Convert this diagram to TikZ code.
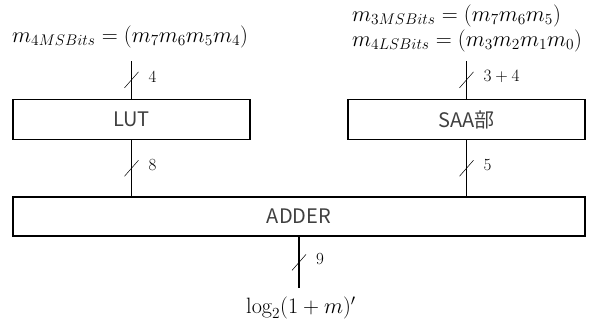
\documentclass[tikz,border=0pt]{standalone}
\usepackage{fontspec}
\usepackage{graphicx}
\usetikzlibrary{calc}
\newfontfamily\boxfont{Noto Sans CJK JP}
\definecolor{boxtext}{HTML}{404040}
\newcommand{\bigmath}[1]{\scalebox{1.07}{$#1$}}
\tikzset{
  blk/.style={draw, line width=1.6pt, minimum height=40pt, inner sep=0pt,
    font=\boxfont\fontsize{20}{22}\selectfont, text=boxtext},
  wire/.style={line width=1.6pt},
  slashline/.style={line width=0.5pt},
  bitlbl/.style={font=\fontsize{17}{19}\selectfont, anchor=west, inner sep=0pt},
  mathlbl/.style={font=\fontsize{20.74}{24}\selectfont, inner sep=0pt}
}
\newcommand{\busslash}[1]{\draw[slashline] ($(#1)+(-7,8)$) -- ($(#1)+(7,-8)$);}
\begin{document}
\begin{tikzpicture}[x=1pt,y=-1pt]
\useasboundingbox (0,0) rectangle (591,322);
\node[blk, minimum width=237pt] (lut) at (131.5,119.5) {LUT};
\node[blk, minimum width=237pt] (saa) at (466.5,119.5) {SAA部};
\node[blk, minimum width=572pt, minimum height=39pt] (adder) at (299,216.5) {ADDER};
\coordinate (lutin) at (131.5,61);
\coordinate (saain) at (466.5,61);
\coordinate (out) at (299,288);
\node[mathlbl, anchor=west] (ltxt) at (12,37) {\bigmath{m_{4MSBits}=(m_7m_6m_5m_4)}};
\node[mathlbl, anchor=west] (rtxt1) at (352,16) {\bigmath{m_{3MSBits}=(m_7m_6m_5)}};
\node[mathlbl, anchor=west] (rtxt2) at (352,41) {\bigmath{m_{4LSBits}=(m_3m_2m_1m_0)}};
\node[mathlbl] (otxt) at (301,308) {\bigmath{\log_2(1+m)'}};
\draw[wire] (lutin) -- (lut.north) coordinate[pos=0.5] (s1);
\draw[wire] (saain) -- (saa.north) coordinate[pos=0.5] (s2);
\draw[wire] (lut.south) -- (adder.north -| lut.south) coordinate[pos=0.5] (s3);
\draw[wire] (saa.south) -- (adder.north -| saa.south) coordinate[pos=0.5] (s4);
\draw[wire] (adder.south) -- (out) coordinate[pos=0.5] (s5);
\busslash{s1}\busslash{s2}\busslash{s3}\busslash{s4}\busslash{s5}
\node[bitlbl] (b1) at ($(s1)+(17,-3)$) {4};
\node[bitlbl] (b2) at ($(s2)+(17,-3)$) {$3+4$};
\node[bitlbl] (b3) at ($(s3)+(17,-3)$) {8};
\node[bitlbl] (b4) at ($(s4)+(17,-3)$) {5};
\node[bitlbl] (b5) at ($(s5)+(17,-3)$) {9};
\end{tikzpicture}
\end{document}
